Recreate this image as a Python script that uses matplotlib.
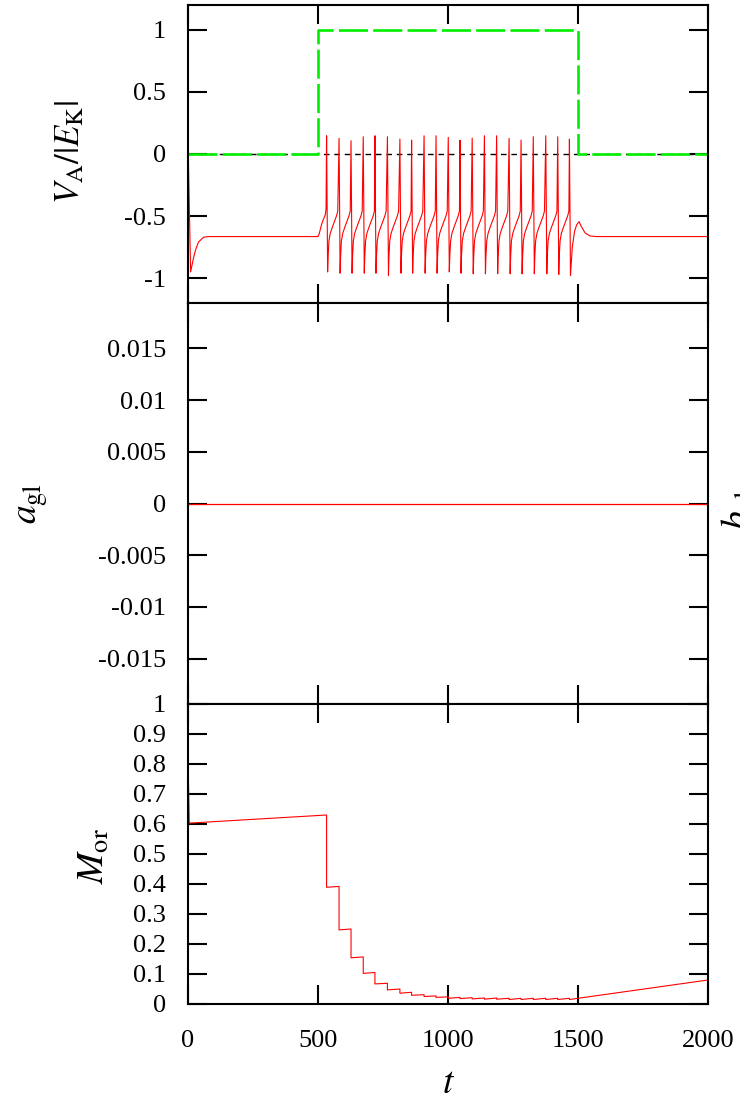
import matplotlib
matplotlib.use("Agg")
import matplotlib.pyplot as plt
import numpy as np

plt.rcParams["font.family"] = ["Liberation Serif", "DejaVu Serif"]
plt.rcParams["mathtext.fontset"] = "stix"
plt.rcParams["axes.unicode_minus"] = False

# ---- data ----
# membrane potential V_A/|E_K|: spike peaks, troughs
spike_t = [533, 581, 627, 674, 719, 767, 815, 860, 908, 954, 1001,
           1046, 1093, 1140, 1187, 1235, 1281, 1328, 1376, 1422, 1467]
spike_peak = [0.147, 0.126, 0.107, 0.139, 0.147, 0.139, 0.120, 0.112, 0.147, 0.147, 0.134,
              0.112, 0.128, 0.147, 0.147, 0.126, 0.112, 0.139, 0.147, 0.139, 0.120]
spike_trough = [-0.95, -0.96, -0.96, -0.96, -0.96, -0.98, -0.96, -0.96, -0.96, -0.96, -0.95,
                -0.96, -0.965, -0.965, -0.965, -0.965, -0.965, -0.965, -0.965, -0.97, -0.98]
# trace before the first spike
pre_t = [0, 10, 20, 28, 40, 60, 80, 500, 505, 512, 520, 528, 531]
pre_v = [0.12, -0.95, -0.85, -0.78, -0.71, -0.67, -0.665, -0.665, -0.64, -0.58, -0.53, -0.49, -0.44]
# recovery after each spike trough (time after trough, value)
rec_dt = [2, 5, 10, 18, 27, 34, 39]
rec_v = [-0.82, -0.70, -0.64, -0.59, -0.54, -0.50, -0.46]
# trace after the last spike
post_t = [1478, 1487, 1495, 1504, 1512, 1527, 1546, 1570, 2000]
post_v = [-0.75, -0.62, -0.57, -0.545, -0.58, -0.635, -0.66, -0.665, -0.665]

# stimulus (green dashed)
stim_t = [0, 500, 500, 1500, 1500, 2000]
stim_v = [0, 0, 1, 1, 0, 0]

# a_gl
agl_t = [0, 2000]
agl_v = [0, 0]

# M_or: start, levels just before / after each spike, end
m_start_t = [0, 5]
m_start_v = [0.82, 0.603]
m_before = [0.630, 0.392, 0.250, 0.157, 0.105, 0.069, 0.050, 0.039, 0.031, 0.027, 0.024,
            0.022, 0.021, 0.020, 0.020, 0.019, 0.019, 0.019, 0.019, 0.019, 0.019]
m_after = [0.389, 0.247, 0.154, 0.102, 0.067, 0.047, 0.036, 0.029, 0.025, 0.022, 0.019,
           0.018, 0.017, 0.016, 0.016, 0.015, 0.015, 0.015, 0.015, 0.015, 0.015]
m_end_t = 2000
m_end_v = 0.08

# ---- build polylines ----
vt, vv = list(pre_t), list(pre_v)
for i, tp in enumerate(spike_t):
    vt += [tp, tp + 4]
    vv += [spike_peak[i], spike_trough[i]]
    if i < len(spike_t) - 1:
        vt += [tp + 4 + d for d in rec_dt]
        vv += rec_v
vt += post_t
vv += post_v

mt, mv = list(m_start_t), list(m_start_v)
for i, tp in enumerate(spike_t):
    mt += [tp, tp]
    mv += [m_before[i], m_after[i]]
mt.append(m_end_t)
mv.append(m_end_v)

fig = plt.figure(figsize=(7.4, 11.01), dpi=100)
W, H = 740, 1101
left, right = 188, 708
ax1 = fig.add_axes([left / W, 1 - 303 / H, (right - left) / W, 298 / H])
ax2 = fig.add_axes([left / W, 1 - 704 / H, (right - left) / W, 401 / H])
ax3 = fig.add_axes([left / W, 1 - 1004 / H, (right - left) / W, 300 / H])

red = "#ff0000"
ax1.plot(agl_t, agl_v, color="black", lw=1.0, dashes=(4, 3.5))
ax1.plot(stim_t, stim_v, color="#00ee00", lw=1.9, dashes=(11, 2))
ax1.plot(vt, vv, color=red, lw=0.8)
ax1.set_ylim(-1.2, 1.2)
ax1.set_yticks([-1, -0.5, 0, 0.5, 1])
ax1.set_yticklabels(["-1", "-0.5", "0", "0.5", "1"])

ax2.plot(agl_t, agl_v, color=red, lw=0.9)
ax2.set_ylim(-0.0194, 0.0194)
yt2 = [-0.015, -0.01, -0.005, 0, 0.005, 0.01, 0.015]
ax2.set_yticks(yt2)
ax2.set_yticklabels(["-0.015", "-0.01", "-0.005", "0", "0.005", "0.01", "0.015"])

ax3.plot(mt, mv, color=red, lw=0.8)
ax3.set_ylim(0, 1)
yt3 = [0, 0.1, 0.2, 0.3, 0.4, 0.5, 0.6, 0.7, 0.8, 0.9, 1]
ax3.set_yticks(yt3)
ax3.set_yticklabels(["0", "0.1", "0.2", "0.3", "0.4", "0.5", "0.6", "0.7", "0.8", "0.9", "1"])

for ax in (ax1, ax2, ax3):
    ax.set_xlim(0, 2000)
    ax.set_xticks([0, 500, 1000, 1500, 2000])
    ax.tick_params(direction="in", length=13.5, width=1.5, top=True, right=True,
                   labelsize=19, color="black")
    ax.tick_params(axis="y", pad=16)
    ax.tick_params(axis="x", pad=19)
    for s in ax.spines.values():
        s.set_linewidth(1.5)
ax1.tick_params(labelbottom=False)
ax2.tick_params(labelbottom=False)
ax3.set_xticklabels(["0", "500", "1000", "1500", "2000"])

fig.text(71 / W, 1 - 152 / H, r"$V_\mathrm{A}/|E_\mathrm{K}|$", rotation=90,
         ha="center", va="center", fontsize=25)
fig.text(33 / W, 1 - 504 / H, r"$a_\mathrm{gl}$", rotation=90,
         ha="center", va="center", fontsize=27)
fig.text(95 / W, 1 - 856 / H, r"$M_\mathrm{or}$", rotation=90,
         ha="center", va="center", fontsize=27)
fig.text(449 / W, 1 - 1084 / H, r"$t$", ha="center", va="center", fontsize=27)
# label of the neighbouring panel, cut by the figure edge
fig.text(720 / W, 1 - 510 / H, r"$b_\mathrm{gl}$", rotation=90,
         ha="left", va="center", fontsize=27)

fig.savefig("out.png", dpi=100)
